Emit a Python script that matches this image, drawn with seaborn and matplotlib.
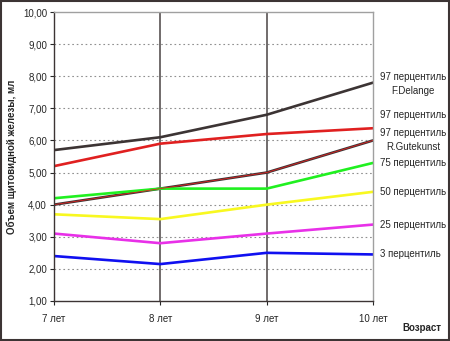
import matplotlib
matplotlib.use("Agg")
import matplotlib.pyplot as plt
import seaborn as sns
import pandas as pd
from matplotlib.ticker import FixedLocator, FuncFormatter

ages = ["7 лет", "8 лет", "9 лет", "10 лет"]
p97_delange = [5.70, 6.10, 6.80, 7.80]
p97 = [5.20, 5.90, 6.20, 6.38]
p97_gutekunst = [4.00, 4.50, 5.00, 6.00]
p75 = [4.20, 4.50, 4.50, 5.30]
p50 = [3.70, 3.55, 4.00, 4.40]
p25 = [3.10, 2.80, 3.10, 3.38]
p3 = [2.40, 2.15, 2.50, 2.45]

series_names = ["97 F.Delange", "97", "97 R.Gutekunst", "75", "50", "25", "3"]
series_vals = [p97_delange, p97, p97_gutekunst, p75, p50, p25, p3]
colors = ["#3c3434", "#e02020", "#3c3434", "#20f020", "#f8f820", "#e830e8", "#1010f0"]
labels = ["97 перцентиль\nF.Delange", "97 перцентиль", "97 перцентиль\nR.Gutekunst",
          "75 перцентиль", "50 перцентиль", "25 перцентиль", "3 перцентиль"]
label_y = [7.75, 6.8, 6.0, 5.3, 4.4, 3.38, 2.45]
yticks = [1, 2, 3, 4, 5, 6, 7, 8, 9, 10]

rows = []
for name, vals in zip(series_names, series_vals):
    for i, v in enumerate(vals):
        rows.append({"x": i, "value": v, "series": name})
df = pd.DataFrame(rows)

sns.set_style("white")
plt.rcParams['font.family'] = ['Liberation Sans', 'DejaVu Sans']

fig = plt.figure(figsize=(4.5, 3.41), dpi=100)
ax = fig.add_axes([54/450, 1-301/341, (373-54)/450, (301-12)/341])

for yv in yticks[1:-1]:
    ax.axhline(yv, color="#909090", lw=0.8, ls=(0, (1.5, 2.5)), zorder=0)
for xv in [1, 2]:
    ax.axvline(xv, color="#4a4444", lw=1.1, zorder=0)

sns.lineplot(data=df, x="x", y="value", hue="series", palette=dict(zip(series_names, colors)),
             hue_order=series_names, lw=1.9, ax=ax, legend=False)
# red core for Gutekunst line
sub = df[df.series == "97 R.Gutekunst"]
sns.lineplot(data=sub, x="x", y="value", color="#e02020", lw=0.6, ax=ax, legend=False)

ax.set_xlim(0, 3)
ax.set_ylim(1, 10)
ax.xaxis.set_major_locator(FixedLocator([0, 1, 2, 3]))
ax.set_xticklabels(ages, fontsize=7)
ax.yaxis.set_major_locator(FixedLocator(yticks))
ax.yaxis.set_major_formatter(FuncFormatter(lambda v, p: f"{v:.2f}".replace(".", ",")))
ax.tick_params(axis="y", labelsize=7, length=3, direction="out", left=True, pad=2)
ax.tick_params(axis="x", labelsize=7, length=3, direction="out", bottom=True, pad=6)
ax.set_xlabel("")
ax.set_ylabel("Объем щитовидной железы, мл", fontsize=7, fontweight="bold", labelpad=4)

for s in ["left", "bottom"]:
    ax.spines[s].set_color("#3c3434")
    ax.spines[s].set_linewidth(1.0)
for s in ["top", "right"]:
    ax.spines[s].set_color("#a0a0a0")
    ax.spines[s].set_linewidth(1.0)

for lab, yv in zip(labels, label_y):
    ax.annotate(lab, xy=(1.0, yv), xycoords=("axes fraction", "data"),
                xytext=(5, 0), textcoords="offset points", fontsize=7,
                ha="left", va="center", multialignment="center", linespacing=1.5)

fig.text(402/450, 1-328/341, "Возраст", fontsize=7, fontweight="bold", ha="left", va="center")

border = plt.Rectangle((0.002, 0.003), 0.995, 0.994, transform=fig.transFigure,
                       fill=False, edgecolor="#3c3434", lw=1.5)
fig.patches.append(border)

fig.savefig("out.png", dpi=100)
